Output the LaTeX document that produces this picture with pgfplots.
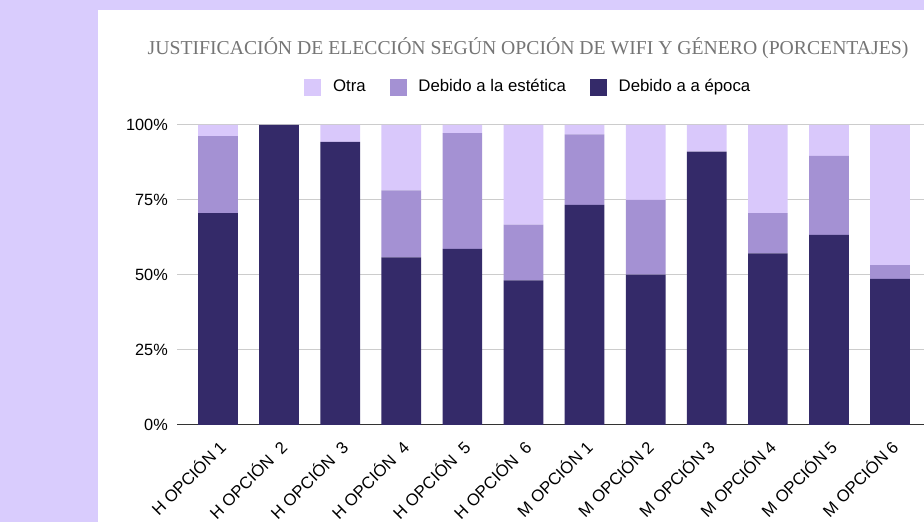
\documentclass[border=0pt]{standalone}
\usepackage{pgfplots}
\pgfplotsset{compat=1.18}
\usepackage{pgfplotstable}
\usepackage{fontspec}
\setmainfont{Liberation Sans}
\newfontfamily\titlefont{Liberation Serif}
\definecolor{bgl}{HTML}{D9CCFD}
\definecolor{otra}{HTML}{D9C8FB}
\definecolor{estetica}{HTML}{A491D3}
\definecolor{epoca}{HTML}{342A69}
\definecolor{titlegray}{HTML}{757575}
\definecolor{gridgray}{HTML}{CCCCCC}
\definecolor{axisgray}{HTML}{333333}
\pgfplotstableread{
x epoca estetica otra
0 70.6 25.7 3.7
1 100 0 0
2 94.4 0 5.6
3 55.9 22.3 21.8
4 58.7 38.6 2.7
5 48.2 18.6 33.2
6 73.4 23.5 3.1
7 50.1 24.9 25.0
8 91.1 0 8.9
9 57.2 13.4 29.4
10 63.4 26.3 10.3
11 48.7 4.6 46.7
}\datatable
\begin{document}
\begin{tikzpicture}
\clip (0,0) rectangle (924pt,522pt);
\fill[bgl] (0,0) rectangle (924pt,522pt);
\fill[white] (98pt,0) rectangle (924pt,512pt);
\begin{axis}[
  at={(177pt,97pt)}, anchor=south west,
  scale only axis, width=747pt, height=300pt,
  ybar stacked, bar width=39.7pt,
  xmin=-0.671, xmax=11.555, ymin=0, ymax=100,
  axis x line*=bottom, axis y line*=left,
  y axis line style={draw=none},
  x axis line style={draw=axisgray, line width=1pt},
  major tick length=0pt,
  ymajorgrids, grid style={draw=gridgray, line width=1pt},
  ytick={0,25,50,75,100},
  yticklabels={0\%,25\%,50\%,75\%,100\%},
  yticklabel style={font=\fontsize{16.3}{19}\selectfont, anchor=east, inner sep=0pt, xshift=-9pt},
  xtick={0,...,11},
  xticklabels={H OPCIÓN 1,H OPCIÓN~ 2,H OPCIÓN~ 3,H OPCIÓN~ 4,H OPCIÓN~ 5,H OPCIÓN~ 6,M OPCIÓN 1,M OPCIÓN 2,M OPCIÓN 3,M OPCIÓN 4,M OPCIÓN 5,M OPCIÓN 6},
  xticklabel style={font=\fontsize{16.7}{20}\selectfont, xshift=-1pt, yshift=-13pt, rotate=45, anchor=north east, inner sep=0pt},
  title={\titlefont JUSTIFICACIÓN DE ELECCIÓN SEGÚN OPCIÓN DE WIFI Y GÉNERO (PORCENTAJES)},
  title style={at={(0.47,1.237)}, anchor=center, font=\fontsize{19.7}{23}\selectfont, text=titlegray, inner sep=0pt},
  legend columns=3, reverse legend,
  legend style={at={(0.469,1.1243)}, anchor=center, draw=none, fill=none,
    font=\fontsize{16.8}{20}\selectfont, column sep=0pt,
    /tikz/every even column/.append style={column sep=24pt},
    nodes={inner sep=0pt, text height=12pt, text depth=3.5pt}},
  legend image code/.code={\fill[#1] (0pt,-8.5pt) rectangle (17pt,8.5pt); \path (28.7pt,0pt);},
]
\addplot[fill=epoca, draw=none] table[x=x, y=epoca] {\datatable};
\addplot[fill=estetica, draw=none] table[x=x, y=estetica] {\datatable};
\addplot[fill=otra, draw=none] table[x=x, y=otra] {\datatable};
\legend{Debido a a época, Debido a la estética, Otra}
\end{axis}
\end{tikzpicture}
\end{document}
